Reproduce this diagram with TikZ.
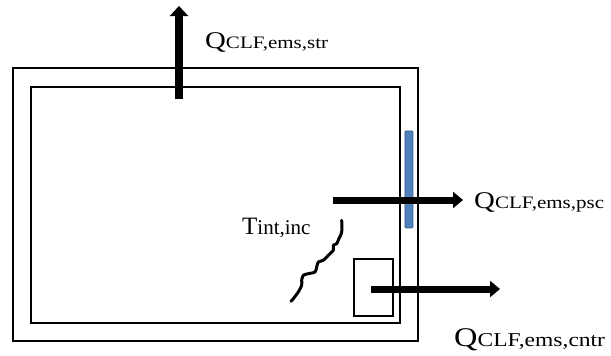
\documentclass[tikz,border=0pt]{standalone}
\usepackage{fontspec}
\setmainfont{Liberation Serif}
\usetikzlibrary{arrows.meta}
\definecolor{panel}{HTML}{4F81BD}
\definecolor{paneledge}{HTML}{3A5F8C}
\newcommand{\qlabel}[3]{\scalebox{1.2}[1]{\fontsize{#1}{#1}\selectfont Q\fontsize{#2}{#2}\selectfont #3}}
\begin{document}
\begin{tikzpicture}[x=1pt,y=-1pt,
  wall/.style={draw=black,line width=2pt},
  flux/.style={line width=7pt,-{Triangle[width=16pt,length=10pt]}},
  lbl/.style={inner sep=0pt,anchor=base west}]
\useasboundingbox (0,0) rectangle (611,356);
% walls
\node[wall,inner sep=0pt,minimum width=405pt,minimum height=273pt,anchor=north west] (outer) at (12,67) {};
\node[wall,inner sep=0pt,minimum width=369pt,minimum height=236pt,anchor=north west] (inner) at (30,86) {};
% window (blue panel)
\node[fill=panel,draw=paneledge,line width=0.8pt,rounded corners=1pt,inner sep=0pt,minimum width=8pt,minimum height=97pt,anchor=north west] (pane) at (404.5,130.5) {};
% equipment box
\node[draw=black,line width=1.5pt,inner sep=0pt,minimum width=39pt,minimum height=57pt,anchor=north west] (box) at (353,258) {};
% arrow endpoints
\coordinate (strA) at (179,99);
\coordinate (strB) at (179,6);
\coordinate (pscA) at (333,200);
\coordinate (pscB) at (463,200);
\coordinate (cntrA) at (371,289);
\coordinate (cntrB) at (500,289);
\draw[flux,line width=8pt,-{Triangle[width=18pt,length=10pt]}] (strA) -- (strB);
\draw[flux] (pscA) -- (pscB);
\draw[flux] (cntrA) -- (cntrB);
% labels
\node[lbl] (qstr) at (205,48) {\qlabel{24}{17.5}{CLF,ems,str}};
\node[lbl] (qpsc) at (474,208) {\qlabel{24}{17.5}{CLF,ems,psc}};
\node[lbl] (qcntr) at (454,346) {\qlabel{27}{19.6}{CLF,ems,cntr}};
\node[lbl] (tint) at (242,234) {\fontsize{25}{25}\selectfont T\fontsize{21}{21}\selectfont int,inc};
% temperature wiggle
\draw[line width=3pt,line cap=round,line join=round] plot[smooth,tension=0.5] coordinates {
 (341.7,220.3) (341.7,232) (338.3,240) (336.7,243.7) (333.3,245.3) (333.3,250.3)
 (328.3,255.3) (323.3,260.3) (318.3,262) (316.7,267) (315,272) (308.3,273.7)
 (303.3,275.3) (301.7,280.3) (301.7,285.3) (298.3,292) (293.3,298.7) (291,301.3)};
\end{tikzpicture}
\end{document}
